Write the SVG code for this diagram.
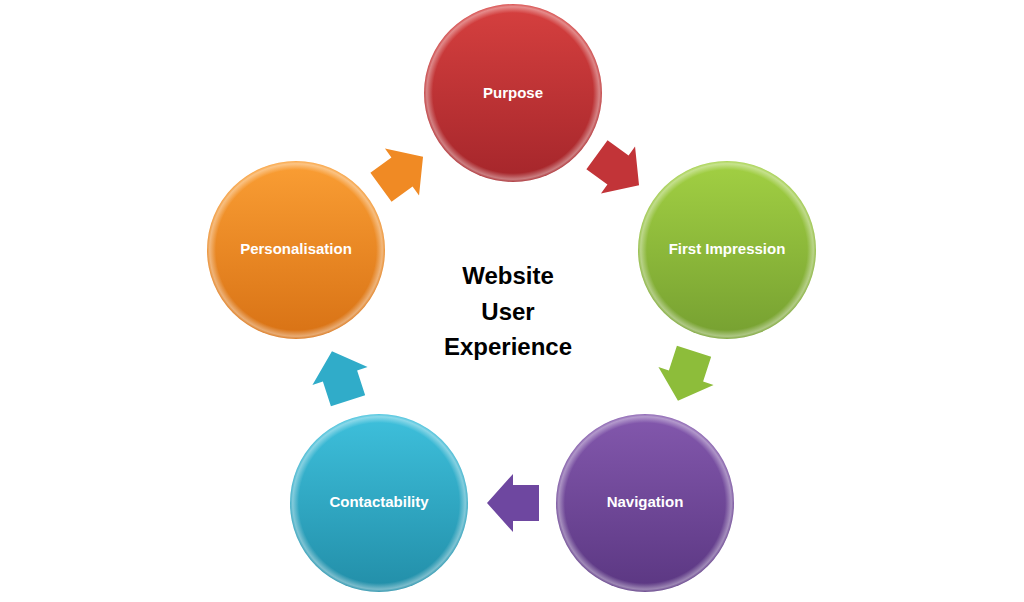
<svg xmlns="http://www.w3.org/2000/svg" width="1024" height="602" viewBox="0 0 1024 602">
<defs>
<linearGradient id="gRed" x1="0" y1="0" x2="0" y2="1"><stop offset="0" stop-color="#d6403f"/><stop offset="1" stop-color="#a5262b"/></linearGradient>
<linearGradient id="gGreen" x1="0" y1="0" x2="0" y2="1"><stop offset="0" stop-color="#a2d043"/><stop offset="1" stop-color="#76a031"/></linearGradient>
<linearGradient id="gPurple" x1="0" y1="0" x2="0" y2="1"><stop offset="0" stop-color="#8358ad"/><stop offset="1" stop-color="#5b3782"/></linearGradient>
<linearGradient id="gCyan" x1="0" y1="0" x2="0" y2="1"><stop offset="0" stop-color="#3ec0dc"/><stop offset="1" stop-color="#228ea8"/></linearGradient>
<linearGradient id="gOrange" x1="0" y1="0" x2="0" y2="1"><stop offset="0" stop-color="#fa9e34"/><stop offset="1" stop-color="#d87215"/></linearGradient>
<radialGradient id="shine" cx="0.5" cy="0.5" r="0.5"><stop offset="0.9" stop-color="#fff" stop-opacity="0"/><stop offset="0.97" stop-color="#fff" stop-opacity="0.4"/><stop offset="1" stop-color="#fff" stop-opacity="0.1"/></radialGradient>
<path id="arrow" d="M -26,-18 L 0,-18 L 0,-29 L 26,0 L 0,29 L 0,18 L -26,18 Z"/>
</defs>
<style>
.lbl{font-family:"Liberation Sans",Arial,sans-serif;font-weight:bold;font-size:15px;fill:#fff;text-anchor:middle}
.ctr{font-family:"Liberation Sans",Arial,sans-serif;font-weight:bold;font-size:24px;fill:#000;text-anchor:middle}
.rim{fill:url(#shine)}
</style>
<rect width="1024" height="602" fill="#fff"/>
<g id="connectors">
<use href="#arrow" fill="#c23438" transform="translate(618,170) rotate(36)"/>
<use href="#arrow" fill="#8dbd3a" transform="translate(686,376) rotate(108)"/>
<use href="#arrow" fill="#6e47a0" transform="translate(513,503) rotate(180)"/>
<use href="#arrow" fill="#30acc9" transform="translate(340,376) rotate(-108)"/>
<use href="#arrow" fill="#f08a24" transform="translate(402,172) rotate(-36)"/>
</g>
<g id="purpose">
<circle cx="513" cy="93" r="89" fill="url(#gRed)"/>
<circle cx="513" cy="93" r="89" class="rim"/>
<text x="513" y="98" class="lbl">Purpose</text>
</g>
<g id="first-impression">
<circle cx="727" cy="250" r="89" fill="url(#gGreen)"/>
<circle cx="727" cy="250" r="89" class="rim"/>
<text x="727" y="254" class="lbl">First Impression</text>
</g>
<g id="navigation">
<circle cx="645" cy="503" r="89" fill="url(#gPurple)"/>
<circle cx="645" cy="503" r="89" class="rim"/>
<text x="645" y="507" class="lbl">Navigation</text>
</g>
<g id="contactability">
<circle cx="379" cy="503" r="89" fill="url(#gCyan)"/>
<circle cx="379" cy="503" r="89" class="rim"/>
<text x="379" y="507" class="lbl">Contactability</text>
</g>
<g id="personalisation">
<circle cx="296" cy="250" r="89" fill="url(#gOrange)"/>
<circle cx="296" cy="250" r="89" class="rim"/>
<text x="296" y="254" class="lbl">Personalisation</text>
</g>
<g id="center">
<text x="508" y="284" class="ctr">Website</text>
<text x="508" y="320" class="ctr">User</text>
<text x="508" y="355" class="ctr">Experience</text>
</g>
</svg>
